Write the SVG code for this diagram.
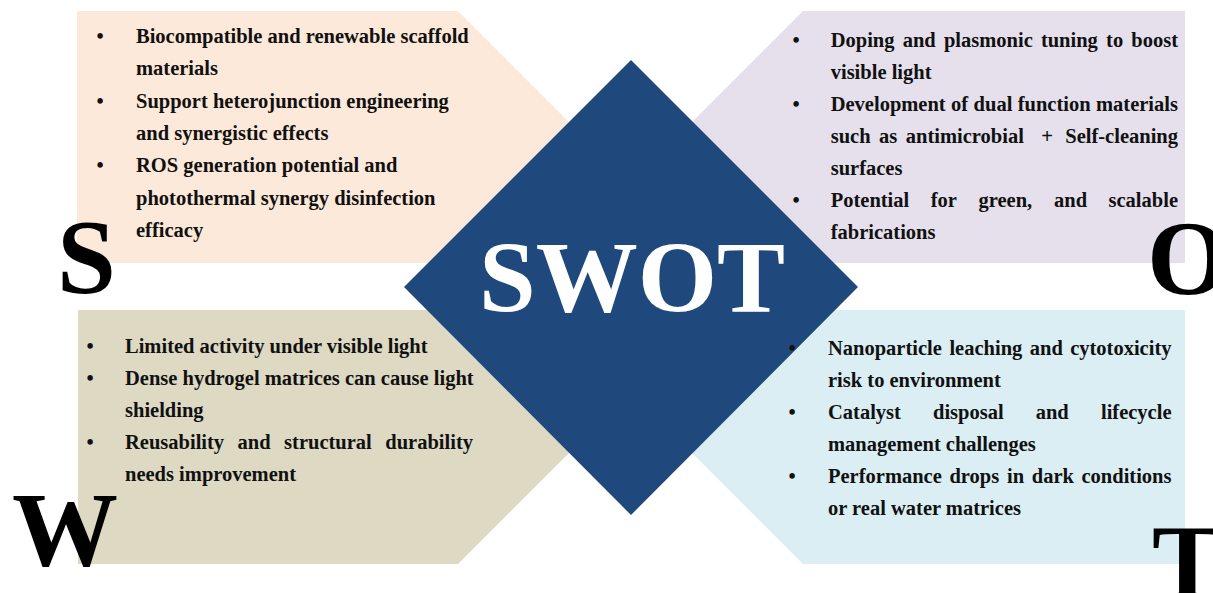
<svg xmlns="http://www.w3.org/2000/svg" width="1213" height="593" viewBox="0 0 1213 593">
<style>
.t{font-family:"Liberation Serif","Times New Roman",serif;font-weight:bold;font-size:20.5px;fill:#111}
.e{text-anchor:end}
.big{font-family:"Liberation Serif","Times New Roman",serif;font-weight:bold;font-size:106px;fill:#000}
.swot{font-family:"Liberation Serif","Times New Roman",serif;font-weight:bold;font-size:102px;fill:#fff;text-anchor:middle}
</style>
<rect width="1213" height="593" fill="#fff"/>
<g id="strengths">
<polygon points="77,11 458,11 600,153 600,263 77,263" fill="#FDE9D9"/>
<text class="t" x="96.5" y="43">•</text><text class="t" x="136" y="43">Biocompatible and renewable scaffold</text>
<text class="t" x="136" y="75.3">materials</text>
<text class="t" x="96.5" y="107.6">•</text><text class="t" x="136" y="107.6">Support heterojunction engineering</text>
<text class="t" x="136" y="140">and synergistic effects</text>
<text class="t" x="96.5" y="172">•</text><text class="t" x="136" y="172">ROS generation potential and</text>
<text class="t" x="136" y="204.5">photothermal synergy disinfection</text>
<text class="t" x="136" y="237">efficacy</text>
<text class="big" x="57" y="293">S</text>
</g>
<g id="opportunities">
<polygon points="803,11 1185,11 1185,263 660,263 660,154" fill="#E5E0EC"/>
<text class="t" x="792.4" y="47">•</text>
<text class="t" y="47"><tspan x="830.7">Doping</tspan><tspan x="902.7">and</tspan><tspan x="943.9">plasmonic</tspan><tspan x="1040.9">tuning</tspan><tspan x="1106.1">to</tspan></text><text class="t e" x="1178" y="47">boost</text>
<text class="t" x="830.7" y="79">visible light</text>
<text class="t" x="792.4" y="111">•</text>
<text class="t" y="111"><tspan x="830.7">Development</tspan><tspan x="951.1">of</tspan><tspan x="973.6">dual</tspan><tspan x="1017.7">function</tspan></text><text class="t e" x="1178" y="111">materials</text>
<text class="t" y="143"><tspan x="830.7">such</tspan><tspan x="879.1">as</tspan><tspan x="905.8">antimicrobial</tspan><tspan x="1041.2">+</tspan></text><text class="t e" x="1178" y="143">Self-cleaning</text>
<text class="t" x="830.7" y="175">surfaces</text>
<text class="t" x="792.4" y="207">•</text>
<text class="t" y="207"><tspan x="830.7">Potential</tspan><tspan x="930.8">for</tspan><tspan x="978.5">green,</tspan><tspan x="1054.1">and</tspan></text><text class="t e" x="1178" y="207">scalable</text>
<text class="t" x="830.7" y="239">fabrications</text>
<text class="big" x="1147" y="294">O</text>
</g>
<g id="weaknesses">
<polygon points="78,310 600,310 600,422 458,564 78,564" fill="#DDD9C3"/>
<text class="t" x="86.4" y="353">•</text><text class="t" x="125" y="353">Limited activity under visible light</text>
<text class="t" x="86.4" y="385">•</text><text class="t" x="125" y="385">Dense hydrogel matrices can cause light</text>
<text class="t" x="125" y="417">shielding</text>
<text class="t" x="86.4" y="449">•</text>
<text class="t" y="449"><tspan x="125">Reusability</tspan><tspan x="237.6">and</tspan><tspan x="284.1">structural</tspan></text><text class="t e" x="473" y="449">durability</text>
<text class="t" x="125" y="481">needs improvement</text>
<text class="big" x="12" y="565">W</text>
</g>
<g id="threats">
<polygon points="660,310 1185,310 1185,564 803,564 660,421" fill="#DAEEF3"/>
<text class="t" y="355"><tspan x="828">Nanoparticle</tspan><tspan x="949.4">leaching</tspan><tspan x="1029.8">and</tspan></text><text class="t e" x="1171.5" y="355">cytotoxicity</text>
<text class="t" x="828" y="387">risk to environment</text>
<text class="t" x="788.4" y="419">•</text>
<text class="t" y="419"><tspan x="828">Catalyst</tspan><tspan x="933">disposal</tspan><tspan x="1035.7">and</tspan></text><text class="t e" x="1171.5" y="419">lifecycle</text>
<text class="t" x="828" y="451">management challenges</text>
<text class="t" x="788.4" y="483">•</text>
<text class="t" y="483"><tspan x="828">Performance</tspan><tspan x="949.4">drops</tspan><tspan x="1007.1">in</tspan><tspan x="1031.8">dark</tspan></text><text class="t e" x="1171.5" y="483">conditions</text>
<text class="t" x="828" y="515">or real water matrices</text>
<text class="big" x="1152" y="598">T</text>
</g>
<g id="center">
<polygon points="631,60 858,287 631,515 404,287" fill="#1F497D"/>
<text class="swot" x="632" y="312">SWOT</text>
</g>
<g id="threats-bullet">
<text class="t" x="788.4" y="355">•</text>
</g>
</svg>
